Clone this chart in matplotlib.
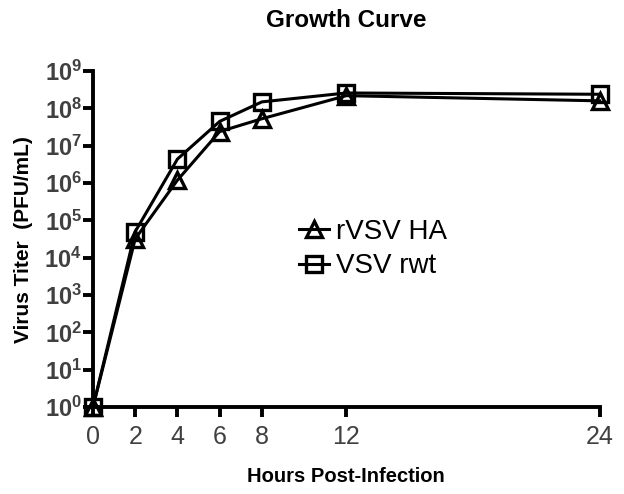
import matplotlib.pyplot as plt
from matplotlib.ticker import FixedLocator, NullLocator

plt.rcParams['font.family'] = ['Liberation Sans', 'DejaVu Sans']
plt.rcParams['mathtext.fontset'] = 'custom'
plt.rcParams['mathtext.rm'] = 'Liberation Sans'
plt.rcParams['mathtext.bf'] = 'Liberation Sans:bold'

hours = [0, 2, 4, 6, 8, 12, 24]
rvsv_ha = [1, 3.2e4, 1.2e6, 2.4e7, 5.3e7, 2.2e8, 1.6e8]
vsv_rwt = [1, 5.0e4, 4.4e6, 4.5e7, 1.5e8, 2.6e8, 2.4e8]
decades = list(range(0, 10))

fig = plt.figure(figsize=(6.24, 4.94), dpi=100)
ax = fig.add_axes([0.149, 0.176, 0.812, 0.68])

line_kw = dict(color='black', lw=2.2, markersize=12, markeredgewidth=2.4,
               fillstyle='none', clip_on=False, zorder=3)
ax.plot(hours, rvsv_ha, marker='^', label='rVSV HA', **line_kw)
ax.plot(hours, vsv_rwt, marker='s', label='VSV rwt', **line_kw)

ax.set_yscale('log')
ax.set_ylim(1, 1e9)
ax.set_xlim(0, 24)
ax.yaxis.set_major_locator(FixedLocator([10.0 ** d for d in decades]))
ax.yaxis.set_minor_locator(NullLocator())
ax.set_yticklabels([r'$\mathbf{10^{%d}}$' % d for d in decades])
ax.set_xticks(hours)
ax.set_xticklabels([str(h) for h in hours])

for side in ['top', 'right']:
    ax.spines[side].set_visible(False)
for side in ['left', 'bottom']:
    ax.spines[side].set_linewidth(2.8)
ax.tick_params(axis='both', width=2.8, length=7, color='black')
ax.tick_params(axis='y', labelsize=17, labelcolor='#404040', pad=1)
ax.tick_params(axis='x', labelsize=18, labelcolor='#404040', pad=6)

ax.set_title('Growth Curve', fontsize=17.5, fontweight='bold', pad=32)
ax.set_xlabel('Hours Post-Infection', fontsize=14.5, fontweight='bold', labelpad=13)
ax.set_ylabel('Virus Titer  (PFU/mL)', fontsize=15, fontweight='bold', labelpad=8)

ax.legend(loc='center', bbox_to_anchor=(0.553, 0.47), frameon=False, fontsize=20,
          handlelength=1.1, handletextpad=0.25, labelspacing=0.3, markerscale=0.95)

fig.savefig('out.png', dpi=100)
